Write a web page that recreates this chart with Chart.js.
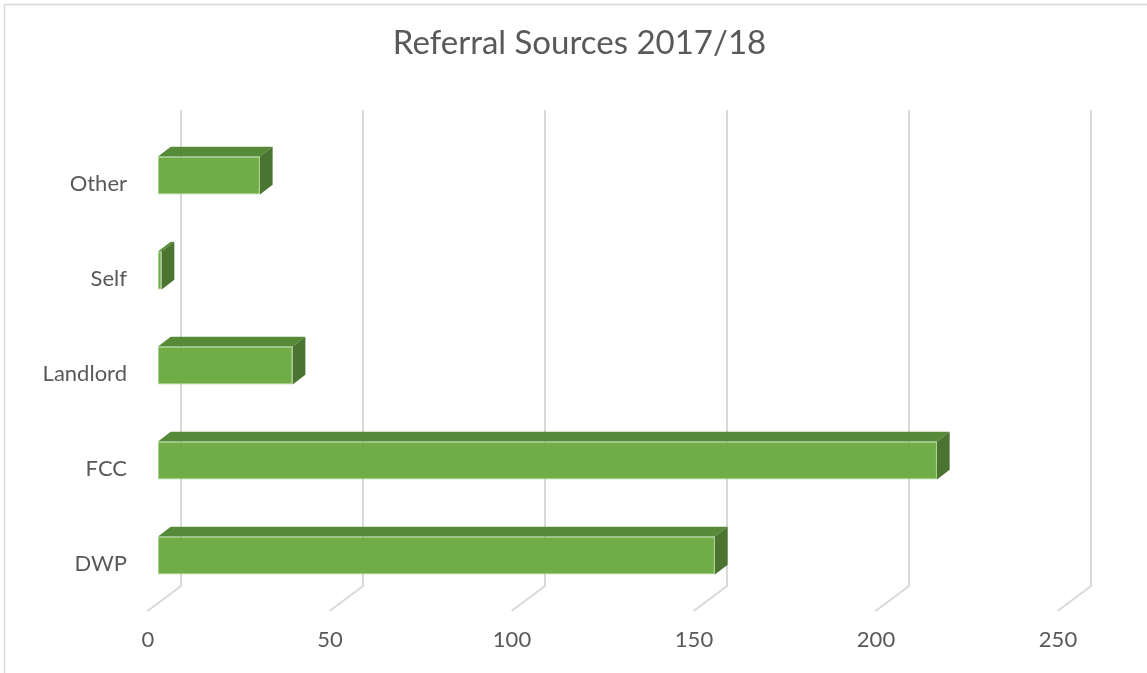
<!DOCTYPE html>
<html>
<head>
<meta charset="utf-8">
<script src="https://cdn.jsdelivr.net/npm/chart.js@4"></script>
<style>
    html, body { margin: 0; padding: 0; background: #fff; }
    #wrap { width: 1147px; height: 673px; }
</style>
</head>
<body>
<div id="wrap"><canvas id="chart" width="1147" height="673"></canvas></div>
<script>
const categories = ['Other', 'Self', 'Landlord', 'FCC', 'DWP'];
const referrals = [28, 1, 37, 214, 153];
const xMax = 250;
const xStep = 50;

const FRONT_COLOR = '#70ad47';
const TOP_COLOR = '#578a38';
const SIDE_COLOR = '#4a742f';
const GRID_COLOR = '#d9d9d9';
const TEXT_COLOR = '#595959';

// 3d offsets, measured relative to the bar's front plane
const BAR_DX = 12.7, BAR_DY = 9.7;
const WALL_DX = 23, FLOOR_DX = -10.4;
const WALL_TOP = 110, WALL_FLOOR = 586, FRONT_FLOOR = 611;

const frame = {
    id: 'frame',
    beforeDraw(chart) {
        const ctx = chart.ctx;
        ctx.save();
        ctx.fillStyle = '#fff';
        ctx.fillRect(0, 0, chart.width, chart.height);
        ctx.strokeStyle = GRID_COLOR;
        ctx.lineWidth = 1.5;
        ctx.beginPath();
        ctx.moveTo(4.5, chart.height);
        ctx.lineTo(4.5, 4.5);
        ctx.lineTo(chart.width, 4.5);
        ctx.stroke();
        ctx.restore();
    }
};

const wallGrid = {
    id: 'wallGrid',
    beforeDatasetsDraw(chart) {
        const ctx = chart.ctx;
        const xScale = chart.scales.x;
        ctx.save();
        ctx.strokeStyle = GRID_COLOR;
        ctx.lineWidth = 2;
        xScale.ticks.forEach(t => {
            const px = xScale.getPixelForValue(t.value);
            ctx.beginPath();
            ctx.moveTo(px + WALL_DX, WALL_TOP);
            ctx.lineTo(px + WALL_DX, WALL_FLOOR);
            ctx.lineTo(px + FLOOR_DX, FRONT_FLOOR);
            ctx.stroke();
        });
        ctx.restore();
    }
};

const barFaces = {
    id: 'barFaces',
    afterDatasetsDraw(chart) {
        const ctx = chart.ctx;
        const meta = chart.getDatasetMeta(0);
        ctx.save();
        meta.data.forEach(bar => {
            const p = bar.getProps(['x', 'y', 'base', 'height'], true);
            const x0 = p.base, x1 = p.x;
            const yTop = p.y - p.height / 2, yBot = p.y + p.height / 2;

            ctx.fillStyle = TOP_COLOR;
            ctx.beginPath();
            ctx.moveTo(x0, yTop);
            ctx.lineTo(x0 + BAR_DX, yTop - BAR_DY);
            ctx.lineTo(x1 + BAR_DX, yTop - BAR_DY);
            ctx.lineTo(x1, yTop);
            ctx.closePath();
            ctx.fill();

            ctx.fillStyle = SIDE_COLOR;
            ctx.beginPath();
            ctx.moveTo(x1, yTop);
            ctx.lineTo(x1 + BAR_DX, yTop - BAR_DY);
            ctx.lineTo(x1 + BAR_DX, yBot - BAR_DY);
            ctx.lineTo(x1, yBot);
            ctx.closePath();
            ctx.fill();
        });
        ctx.restore();
    }
};

new Chart(document.getElementById('chart').getContext('2d'), {
    type: 'bar',
    data: {
        labels: categories,
        datasets: [{
            data: referrals,
            backgroundColor: FRONT_COLOR,
            borderColor: '#a9d18e',
            borderWidth: 1,
            borderSkipped: false,
            categoryPercentage: 1,
            barPercentage: 0.4
        }]
    },
    options: {
        indexAxis: 'y',
        responsive: false,
        animation: false,
        layout: {
            padding: { left: 12, right: 0, top: 0, bottom: 0 }
        },
        plugins: {
            legend: { display: false },
            tooltip: { enabled: false },
            title: {
                display: true,
                text: 'Referral Sources 2017/18',
                color: TEXT_COLOR,
                font: { family: 'Lato', size: 33, weight: 'normal' },
                padding: { top: 23.5, bottom: 64.9 }
            }
        },
        scales: {
            x: {
                min: 0,
                max: xMax,
                ticks: {
                    stepSize: xStep,
                    color: TEXT_COLOR,
                    font: { family: 'Lato', size: 22 },
                    labelOffset: -10,
                    padding: 24
                },
                grid: { display: false, drawTicks: false },
                border: { display: false },
                afterFit(scale) { scale.height = 70; }
            },
            y: {
                ticks: {
                    color: TEXT_COLOR,
                    font: { family: 'Lato', size: 22 },
                    labelOffset: 8,
                    padding: 31
                },
                grid: { display: false, drawTicks: false },
                border: { display: false },
                afterFit(scale) { scale.width = 146; }
            },
            // empty right axis, only reserves the space right of the plot
            yRight: {
                position: 'right',
                ticks: { display: false },
                grid: { display: false, drawTicks: false },
                border: { display: false },
                afterFit(scale) { scale.width = 79; }
            }
        }
    },
    plugins: [frame, wallGrid, barFaces]
});
</script>
</body>
</html>
